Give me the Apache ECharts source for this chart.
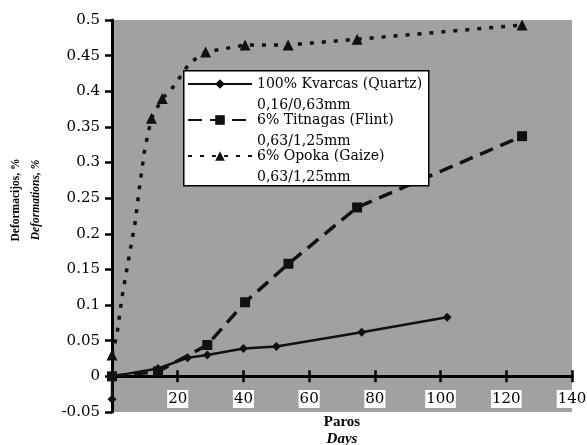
<!DOCTYPE html>
<html>
<head>
<meta charset="utf-8">
<script src="https://cdn.jsdelivr.net/npm/echarts@6/dist/echarts.min.js"></script>
<style>
html,body{margin:0;padding:0;background:#fff;}
#chart{width:587px;height:445px;}
</style>
</head>
<body>
<div id="chart"></div>
<script>
// 初始化图表
var myChart = echarts.init(document.getElementById('chart'));

// 系列名称与粒径
var seriesNames = ['100% Kvarcas (Quartz)', '6% Titnagas (Flint)', '6% Opoka (Gaize)'];
var seriesSizes = ['0,16/0,63mm', '0,63/1,25mm', '0,63/1,25mm'];

// 石英
var quartzDays = [0, 0, 14, 23, 29, 40, 50, 76, 102];
var quartzDef = [-0.032, 0, 0.011, 0.026, 0.03, 0.039, 0.042, 0.062, 0.083];

// 燧石
var flintDays = [0, 14, 29, 40.5, 53.7, 74.6, 124.8];
var flintDef = [0, 0.007, 0.044, 0.104, 0.158, 0.237, 0.337];

// 蛋白土 (只有部分点带标记)
var opokaDays = [0, 1.5, 3, 5, 7, 8.5, 10, 12, 15.3, 18, 23.7, 28.5, 40.5, 53.6, 74.6, 124.8];
var opokaDef = [0.03, 0.058, 0.11, 0.163, 0.215, 0.27, 0.32, 0.362, 0.39, 0.402, 0.44, 0.455, 0.465, 0.465, 0.473, 0.493];
var opokaMarked = [1, 0, 0, 0, 0, 0, 0, 1, 1, 0, 0, 1, 1, 1, 1, 1];

// 坐标轴刻度
var xMin = 0, xMax = 140, xStep = 20;
var yMin = -0.05, yMax = 0.5, yStep = 0.05;

function pairs(xs, ys) {
    return xs.map(function (x, i) { return [x, ys[i]]; });
}

var opokaData = opokaDays.map(function (x, i) {
    var item = { value: [x, opokaDef[i]] };
    if (!opokaMarked[i]) item.symbol = 'none';
    return item;
});

var serif = 'DejaVu Serif';

var baseX = {
    type: 'value', min: xMin, max: xMax, interval: xStep,
    splitLine: { show: false }
};
var baseY = {
    type: 'value', min: yMin, max: yMax, interval: yStep,
    splitLine: { show: false }
};

myChart.setOption({
    animation: false,
    grid: {
        left: 112, right: 15, top: 20, bottom: 33,
        outerBoundsMode: 'none',
        containLabel: false,
        show: true,
        backgroundColor: '#a1a1a1',
        borderWidth: 0
    },
    legend: {
        orient: 'vertical',
        left: 187,
        top: 77,
        padding: 0,
        itemGap: 1,
        itemWidth: 64,
        itemHeight: 12,
        data: seriesNames,
        formatter: function (name) {
            var i = seriesNames.indexOf(name);
            return '{a|' + name + '}\n{b|' + seriesSizes[i] + '}';
        },
        textStyle: {
            color: '#000',
            fontFamily: serif,
            fontSize: 14,
            padding: [22, 0, 0, 0],
            rich: {
                a: { fontFamily: serif, fontSize: 14, lineHeight: 20, color: '#000' },
                b: { fontFamily: serif, fontSize: 14, lineHeight: 22, color: '#000' }
            }
        },
        z: 10
    },
    graphic: [{
        type: 'rect',
        left: 183, top: 70,
        shape: { width: 245, height: 115 },
        style: { fill: '#fff', stroke: '#000', lineWidth: 1.5 },
        z: 5
    }],
    xAxis: [
        echarts.util.merge({
            position: 'bottom',
            axisLine: { onZero: true, onZeroAxisIndex: 0, lineStyle: { color: '#000', width: 3 } },
            axisTick: { show: true, inside: false, length: 6, lineStyle: { color: '#000', width: 2.5 } },
            axisLabel: {
                showMinLabel: false,
                margin: -22,
                color: '#000',
                fontFamily: serif,
                fontSize: 15,
                backgroundColor: '#fff',
                padding: [2, 1, 1, 1]
            },
            name: '{a|Paros}\n{b|Days}',
            nameLocation: 'middle',
            nameGap: 2,
            nameTextStyle: {
                rich: {
                    a: { fontFamily: 'Liberation Serif', fontWeight: 'bold', fontSize: 15, lineHeight: 17, color: '#000' },
                    b: { fontFamily: 'Liberation Serif', fontWeight: 'bold', fontStyle: 'italic', fontSize: 15, lineHeight: 17, color: '#000' }
                }
            }
        }, baseX, true),
        echarts.util.merge({
            position: 'top',
            axisLine: { onZero: true, onZeroAxisIndex: 1, show: false },
            axisTick: { show: true, inside: false, length: 6, lineStyle: { color: '#000', width: 2.5 } },
            axisLabel: { show: false }
        }, baseX, true)
    ],
    yAxis: [
        echarts.util.merge({
            position: 'left',
            axisLine: { onZero: true, onZeroAxisIndex: 0, lineStyle: { color: '#000', width: 3 } },
            axisTick: { show: true, inside: false, length: 7, lineStyle: { color: '#000', width: 2.5 } },
            axisLabel: {
                margin: 12,
                color: '#000',
                fontFamily: serif,
                fontSize: 15
            },
            name: '{a|Deformacijos, %}\n{b|Deformations, %}',
            nameLocation: 'middle',
            nameGap: 66,
            nameTextStyle: {
                padding: [0, 0, 0, 32],
                rich: {
                    a: { fontFamily: 'Liberation Serif', fontWeight: 'bold', fontSize: 11.5, lineHeight: 20, color: '#000' },
                    b: { fontFamily: 'Liberation Serif', fontWeight: 'bold', fontStyle: 'italic', fontSize: 11.5, lineHeight: 20, color: '#000' }
                }
            }
        }, baseY, true),
        echarts.util.merge({
            position: 'right',
            axisLine: { onZero: true, onZeroAxisIndex: 1, show: false },
            axisTick: { show: true, inside: true, length: 6, lineStyle: { color: '#000', width: 2.5 } },
            axisLabel: { show: false }
        }, baseY, true)
    ],
    series: [{
        name: seriesNames[0],
        type: 'line',
        xAxisIndex: 0, yAxisIndex: 0,
        symbol: 'diamond',
        symbolSize: 9,
        showAllSymbol: true,
        itemStyle: { color: '#111' },
        lineStyle: { color: '#111', width: 2.5, type: 'solid' },
        data: pairs(quartzDays, quartzDef),
        z: 3
    }, {
        name: seriesNames[1],
        type: 'line',
        xAxisIndex: 0, yAxisIndex: 0,
        symbol: 'rect',
        symbolSize: 10,
        showAllSymbol: true,
        itemStyle: { color: '#111' },
        lineStyle: { color: '#111', width: 3.5, type: [14, 8] },
        data: pairs(flintDays, flintDef),
        z: 3
    }, {
        name: seriesNames[2],
        type: 'line',
        xAxisIndex: 0, yAxisIndex: 0,
        symbol: 'triangle',
        symbolSize: 11,
        showAllSymbol: true,
        itemStyle: { color: '#111' },
        lineStyle: { color: '#111', width: 3.5, type: [4, 8] },
        data: opokaData,
        z: 3
    }]
});
</script>
</body>
</html>
